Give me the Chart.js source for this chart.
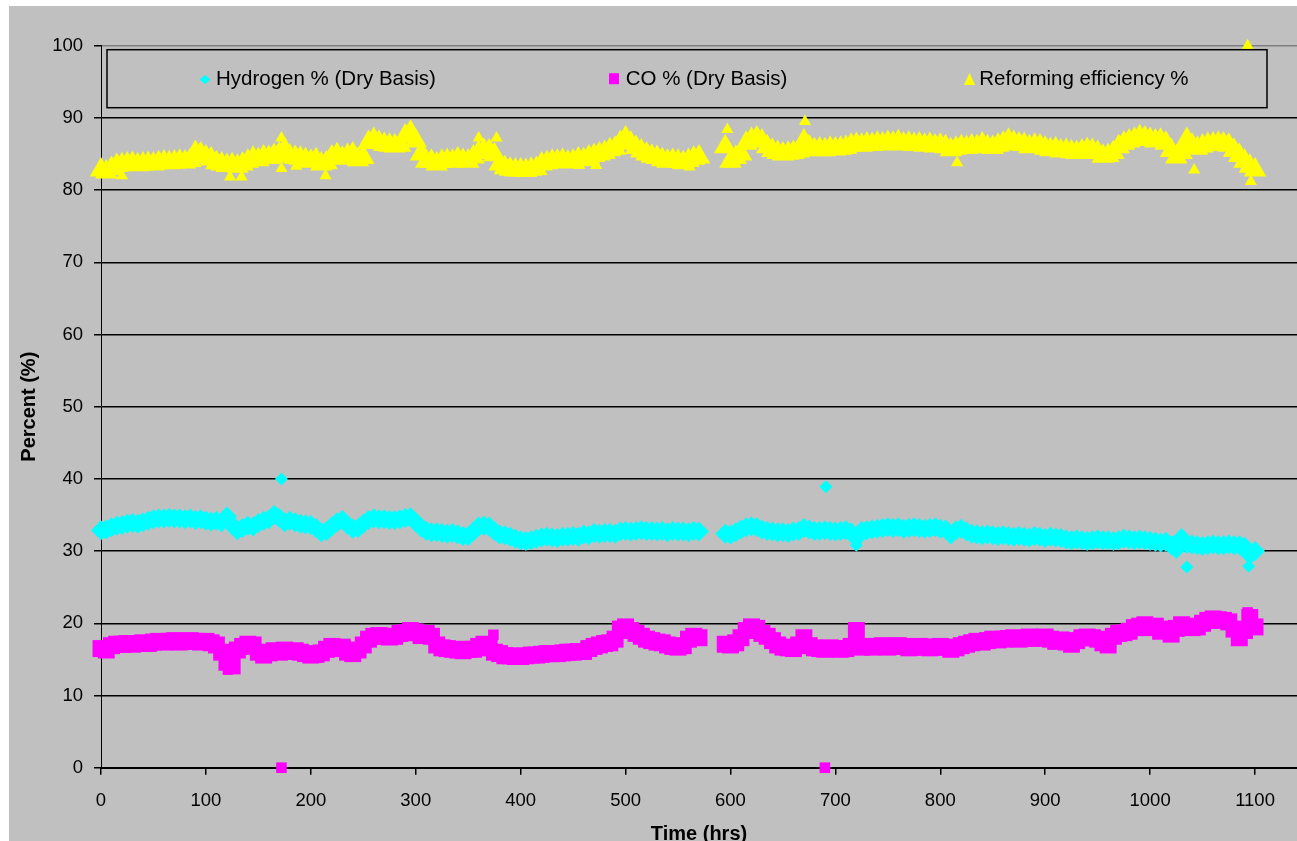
<!DOCTYPE html>
<html>
<head>
<meta charset="utf-8">
<title>Hydrogen, CO and reforming efficiency</title>
<script src="https://cdn.jsdelivr.net/npm/chart.js@4.4.1/dist/chart.umd.min.js"></script>
<style>
  html, body { margin: 0; padding: 0; background: #fff; overflow: hidden; }
  #wrap { position: absolute; left: 0; top: 0; width: 1297px; height: 850px; }
</style>
</head>
<body>
<div id="wrap"><canvas id="chart" width="1297" height="850"></canvas></div>
<script>
// readings every 5 hrs, starting at 0 hrs (null = no data, the shutdown gap)
const firstHour = 0;
const hourStep = 5;

const hydrogen = [
  32.9, 33.0, 33.3, 33.5, 33.6, 33.8, 33.9, 33.8, 34.0, 34.2, 34.4, 34.5, 34.5, 34.6, 34.5, 34.5, 34.4, 34.5, 34.3, 34.4,
  34.2, 34.1, 34.2, 34.0, 34.8, 33.6, 32.9, 33.2, 33.5, 33.4, 33.9, 34.2, 34.4, 35.0, 34.6, 34.0, 34.2, 34.0, 33.8, 33.7,
  33.6, 33.2, 32.6, 32.8, 33.4, 34.0, 34.3, 33.6, 33.1, 33.2, 33.8, 34.3, 34.5, 34.4, 34.4, 34.3, 34.3, 34.4, 34.6, 34.7,
  34.0, 33.3, 32.8, 32.6, 32.6, 32.5, 32.4, 32.5, 32.3, 32.1, 32.1, 32.7, 33.4, 33.5, 33.4, 32.8, 32.3, 32.2, 32.0, 31.7,
  31.5, 31.4, 31.5, 31.7, 31.9, 32.0, 31.9, 31.8, 32.0, 32.0, 32.1, 32.0, 32.3, 32.2, 32.5, 32.4, 32.5, 32.5, 32.4, 32.7,
  32.8, 32.7, 32.8, 32.9, 32.8, 32.8, 32.7, 32.8, 32.6, 32.8, 32.7, 32.7, 32.6, 32.8, 32.7, null, null, null, null, 32.4,
  32.3, 32.6, 33.0, 33.3, 33.4, 33.3, 33.0, 32.8, 32.7, 32.6, 32.6, 32.5, 32.7, 32.8, 33.2, 33.0, 32.8, 32.8, 32.9, 32.8,
  32.7, 32.8, 32.9, 32.6, 31.8, 32.8, 32.9, 33.0, 33.1, 33.2, 33.3, 33.2, 33.3, 33.1, 33.2, 33.3, 33.2, 33.1, 33.2, 33.3,
  33.1, 33.0, 32.3, 32.9, 33.1, 32.7, 32.4, 32.3, 32.2, 32.3, 32.2, 32.1, 32.2, 32.1, 32.0, 32.1, 32.0, 31.9, 32.1, 32.0,
  31.8, 32.0, 31.9, 31.8, 31.6, 31.5, 31.6, 31.5, 31.4, 31.5, 31.6, 31.5, 31.5, 31.4, 31.5, 31.7, 31.6, 31.5, 31.6, 31.5,
  31.4, 31.3, 31.2, 31.3, 30.8, 30.3, 31.8, 31.0, 30.9, 30.8, 30.7, 30.8, 30.9, 30.8, 30.8, 30.9, 30.8, 30.8, 30.6, 29.5,
  30.0
];

const carbonMonoxide = [
  16.5, 16.3, 16.9, 17.1, 17.1, 17.2, 17.1, 17.2, 17.3, 17.2, 17.4, 17.5, 17.4, 17.5, 17.6, 17.4, 17.5, 17.6, 17.5, 17.4,
  17.5, 17.3, 17.0, 16.0, 14.6, 14.1, 16.3, 16.8, 17.1, 17.0, 16.0, 15.6, 15.9, 16.2, 16.0, 16.3, 16.1, 16.2, 16.0, 15.8,
  15.6, 15.7, 15.9, 16.4, 16.8, 16.5, 16.7, 16.0, 15.8, 16.3, 17.0, 17.8, 18.2, 18.3, 18.2, 18.1, 18.2, 18.6, 18.7, 19.0,
  18.8, 18.3, 18.6, 18.2, 17.0, 16.6, 16.5, 16.4, 16.3, 16.2, 16.4, 16.4, 16.8, 17.1, 16.6, 16.0, 15.8, 15.5, 15.5, 15.4,
  15.4, 15.5, 15.6, 15.6, 15.7, 15.8, 15.8, 15.8, 15.9, 16.0, 16.0, 16.1, 16.1, 16.5, 16.8, 17.0, 17.2, 17.3, 17.8, 19.2,
  19.5, 19.0, 18.6, 18.2, 17.8, 17.6, 17.4, 17.3, 17.0, 16.8, 16.7, 16.9, 17.8, 18.2, 18.0, null, null, null, null, 17.1,
  17.0, 17.3, 18.0, 19.0, 19.5, 19.3, 18.6, 18.2, 17.6, 17.0, 16.7, 16.6, 16.5, 17.0, 18.0, 16.9, 16.6, 16.5, 16.4, 16.6,
  16.5, 16.4, 16.5, 16.8, 19.0, 16.7, 16.8, 16.7, 16.8, 16.9, 16.7, 16.8, 16.9, 16.8, 16.6, 16.7, 16.8, 16.7, 16.6, 16.7,
  16.8, 16.7, 16.4, 16.6, 16.9, 17.1, 17.3, 17.5, 17.4, 17.6, 17.8, 17.7, 17.8, 17.9, 18.0, 17.8, 17.9, 18.1, 18.0, 17.9,
  18.1, 17.8, 17.5, 17.7, 17.4, 17.1, 17.6, 18.0, 18.1, 18.0, 17.8, 17.3, 17.0, 18.2, 18.6, 18.7, 18.9, 19.4, 19.6, 19.8,
  19.4, 19.6, 18.9, 19.2, 18.5, 19.3, 19.8, 19.6, 19.4, 19.5, 20.0, 20.4, 20.6, 20.5, 20.4, 20.2, 19.2, 18.0, 19.0, 20.8,
  19.5
];

const efficiency = [
  82.8, 82.5, 83.0, 83.4, 83.5, 83.6, 83.7, 83.5, 83.6, 83.7, 83.6, 83.8, 83.9, 83.8, 83.9, 84.0, 83.9, 84.1, 85.2, 85.0,
  84.6, 84.3, 83.8, 83.6, 83.4, 83.5, 83.3, 83.6, 84.0, 84.4, 84.2, 84.6, 84.5, 84.8, 85.0, 85.6, 84.7, 84.5, 84.4, 84.2,
  84.0, 84.2, 83.6, 83.8, 84.6, 84.9, 84.4, 84.8, 85.0, 84.2, 84.5, 86.6, 87.0, 86.6, 86.3, 86.2, 86.1, 86.2, 87.5, 88.0,
  86.8, 85.0, 84.0, 84.0, 83.6, 84.0, 84.1, 84.0, 84.3, 84.1, 84.0, 84.6, 85.2, 85.5, 85.4, 84.9, 83.6, 83.1, 82.9, 82.8,
  82.8, 82.7, 82.9, 83.0, 83.6, 83.8, 84.0, 84.0, 84.1, 83.9, 84.0, 84.3, 84.2, 84.6, 84.8, 85.0, 85.2, 85.6, 85.8, 86.6,
  87.2, 86.5, 85.9, 85.4, 85.0, 84.7, 84.5, 84.2, 84.0, 84.1, 84.0, 83.8, 84.1, 84.4, 84.6, null, null, null, null, 86.0,
  84.0, 84.5, 85.0, 86.5, 87.0, 87.2, 86.8, 86.0, 85.5, 85.2, 85.0, 85.1, 85.2, 85.4, 86.8, 86.0, 85.6, 85.7, 85.6, 85.8,
  85.7, 85.8, 85.9, 86.2, 86.3, 86.2, 86.4, 86.3, 86.5, 86.4, 86.6, 86.5, 86.7, 86.4, 86.5, 86.3, 86.4, 86.2, 86.3, 86.1,
  86.2, 86.0, 85.6, 85.8, 86.0, 85.9, 86.1, 86.0, 86.4, 86.0, 85.9, 86.2, 86.5, 86.9, 86.6, 86.4, 86.3, 86.0, 86.2, 86.1,
  85.8, 85.6, 85.7, 85.4, 85.5, 85.3, 85.2, 85.4, 85.6, 85.5, 85.2, 84.7, 84.8, 85.2, 86.0, 86.5, 86.8, 87.0, 87.4, 87.2,
  87.0, 86.8, 86.9, 86.5, 85.5, 84.6, 85.2, 87.0, 86.2, 85.8, 86.1, 86.3, 86.4, 86.5, 86.4, 86.2, 85.5, 84.8, 84.0, 83.3,
  82.8
];

// stray readings away from the main band: [hours, percent]
const hydrogenStray = [[172, 40.0], [691, 38.9], [720, 30.8], [1035, 27.8], [1094, 27.9]];
const coStray = [[121, 13.6], [172, 0], [374, 18.4], [690, 0], [1093, 21.5]];
const efficiencyStray = [
  [20, 82.0], [123, 81.8], [134, 81.8], [172, 87.2], [172, 83.0], [186, 83.3], [214, 82.0],
  [360, 87.2], [377, 87.2], [456, 83.4], [472, 83.4], [561, 83.2], [597, 88.4], [599, 83.6],
  [671, 89.5], [816, 83.8], [1042, 82.8], [1093, 100], [1096, 81.2]
];

const seriesLabels = ['Hydrogen % (Dry Basis)', 'CO % (Dry Basis)', 'Reforming efficiency %'];
const xTicks = [0, 100, 200, 300, 400, 500, 600, 700, 800, 900, 1000, 1100];

const CYAN = '#00ffff', MAGENTA = '#ff00ff', YELLOW = '#ffff00';
const FONT = '"Liberation Sans", Arial, sans-serif';

function toPoints(values) {
  const pts = [];
  values.forEach((v, i) => {
    if (v !== null) pts.push({ x: firstHour + i * hourStep, y: v });
  });
  return pts;
}
function strayPoints(list) {
  return list.map(p => ({ x: p[0], y: p[1] }));
}

// grey chart background with the thin white margin of the original
const background = {
  id: 'background',
  beforeDraw(chart) {
    const { ctx, width, height } = chart;
    ctx.save();
    ctx.fillStyle = '#ffffff';
    ctx.fillRect(0, 0, width, height);
    ctx.fillStyle = '#c0c0c0';
    ctx.fillRect(9, 6, width - 9, height - 6);
    ctx.restore();
  }
};

// Excel-style boxed legend sitting inside the plot area
const boxLegend = {
  id: 'boxLegend',
  afterDraw(chart, args, opts) {
    const ctx = chart.ctx;
    ctx.save();
    ctx.fillStyle = '#c0c0c0';
    ctx.fillRect(opts.left, opts.top, opts.width, opts.height);
    ctx.strokeStyle = '#000';
    ctx.lineWidth = 1.5;
    ctx.strokeRect(opts.left, opts.top, opts.width, opts.height);

    ctx.font = opts.fontSize + 'px ' + FONT;
    ctx.textBaseline = 'alphabetic';
    ctx.textAlign = 'left';
    opts.items.forEach((item, i) => {
      const ds = chart.data.datasets[i];
      const cx = item.x, cy = item.y;
      ctx.fillStyle = ds.pointBackgroundColor;
      ctx.beginPath();
      if (ds.pointStyle === 'rectRot') {
        ctx.moveTo(cx, cy - 4.5);
        ctx.lineTo(cx + 5.5, cy);
        ctx.lineTo(cx, cy + 4.5);
        ctx.lineTo(cx - 5.5, cy);
      } else if (ds.pointStyle === 'rect') {
        ctx.rect(cx - 5, cy - 5.5, 10, 11);
      } else {
        ctx.moveTo(cx, cy - 6);
        ctx.lineTo(cx + 5.5, cy + 6);
        ctx.lineTo(cx - 5.5, cy + 6);
      }
      ctx.closePath();
      ctx.fill();
      ctx.fillStyle = '#000';
      ctx.fillText(ds.label, item.textX, opts.baseline);
    });
    ctx.restore();
  }
};

function mainSet(label, values, color, style, radius) {
  return {
    label: label,
    data: toPoints(values),
    pointStyle: style,
    pointRadius: radius,
    pointHoverRadius: radius,
    pointBackgroundColor: color,
    pointBorderWidth: 0,
    borderColor: color,
    showLine: false,
    clip: false
  };
}
function straySet(list, color, style, radius) {
  return {
    label: '',
    data: strayPoints(list),
    pointStyle: style,
    pointRadius: radius,
    pointHoverRadius: radius,
    pointBackgroundColor: color,
    pointBorderWidth: 0,
    borderColor: color,
    showLine: false,
    clip: false
  };
}

const chart = new Chart(document.getElementById('chart'), {
  type: 'scatter',
  data: {
    datasets: [
      mainSet(seriesLabels[0], hydrogen, CYAN, 'rectRot', 10),
      mainSet(seriesLabels[1], carbonMonoxide, MAGENTA, 'rect', 12),
      mainSet(seriesLabels[2], efficiency, YELLOW, 'triangle', 13),
      straySet(hydrogenStray, CYAN, 'rectRot', 6.5),
      straySet(coStray, MAGENTA, 'rect', 7.5),
      straySet(efficiencyStray, YELLOW, 'triangle', 7)
    ]
  },
  options: {
    responsive: false,
    animation: false,
    devicePixelRatio: 1,
    layout: { autoPadding: false, padding: { left: 9, top: 45.7, right: 0, bottom: 0 } },
    scales: {
      x: {
        type: 'linear',
        min: 0,
        max: 1140,
        afterBuildTicks: (axis) => { axis.ticks = xTicks.map(v => ({ value: v })); },
        afterFit: (scale) => {
          scale.height = 82.3;
          scale.paddingLeft = 0;
          scale.paddingRight = 0;
        },
        ticks: {
          color: '#000',
          font: { family: FONT, size: 18.5 },
          padding: 15,
          maxRotation: 0,
          autoSkip: false,
          callback: (v) => String(v)
        },
        grid: {
          drawOnChartArea: false,
          tickLength: 7,
          tickColor: '#000',
          lineWidth: 1.5
        },
        border: { color: '#000', width: 2 },
        title: {
          display: true,
          text: 'Time (hrs)',
          color: '#000',
          font: { family: FONT, size: 20, weight: 'bold' },
          padding: { top: 0, bottom: 4 }
        }
      },
      y: {
        min: 0,
        max: 100,
        afterFit: (scale) => {
          scale.width = 92;
          scale.paddingTop = 0;
          scale.paddingBottom = 0;
        },
        ticks: {
          stepSize: 10,
          color: '#000',
          font: { family: FONT, size: 18.5 },
          padding: 11
        },
        grid: {
          color: (c) => (c.tick && c.tick.value === 100 ? '#808080' : '#000'),
          lineWidth: 1.5,
          tickLength: 7,
          tickColor: '#000'
        },
        border: { color: '#000', width: 1 },
        title: {
          display: true,
          text: 'Percent (%)',
          color: '#000',
          font: { family: FONT, size: 20, weight: 'bold' },
          padding: { top: 8, bottom: 0 }
        }
      }
    },
    plugins: {
      legend: { display: false },
      tooltip: { enabled: false },
      boxLegend: {
        left: 107, top: 49.7, width: 1160, height: 58,
        fontSize: 20.5,
        baseline: 85,
        items: [
          { x: 205, y: 79.5, textX: 216 },
          { x: 614, y: 78.7, textX: 625.7 },
          { x: 969.5, y: 79, textX: 979.3 }
        ]
      }
    }
  },
  plugins: [background, boxLegend]
});
</script>
</body>
</html>
